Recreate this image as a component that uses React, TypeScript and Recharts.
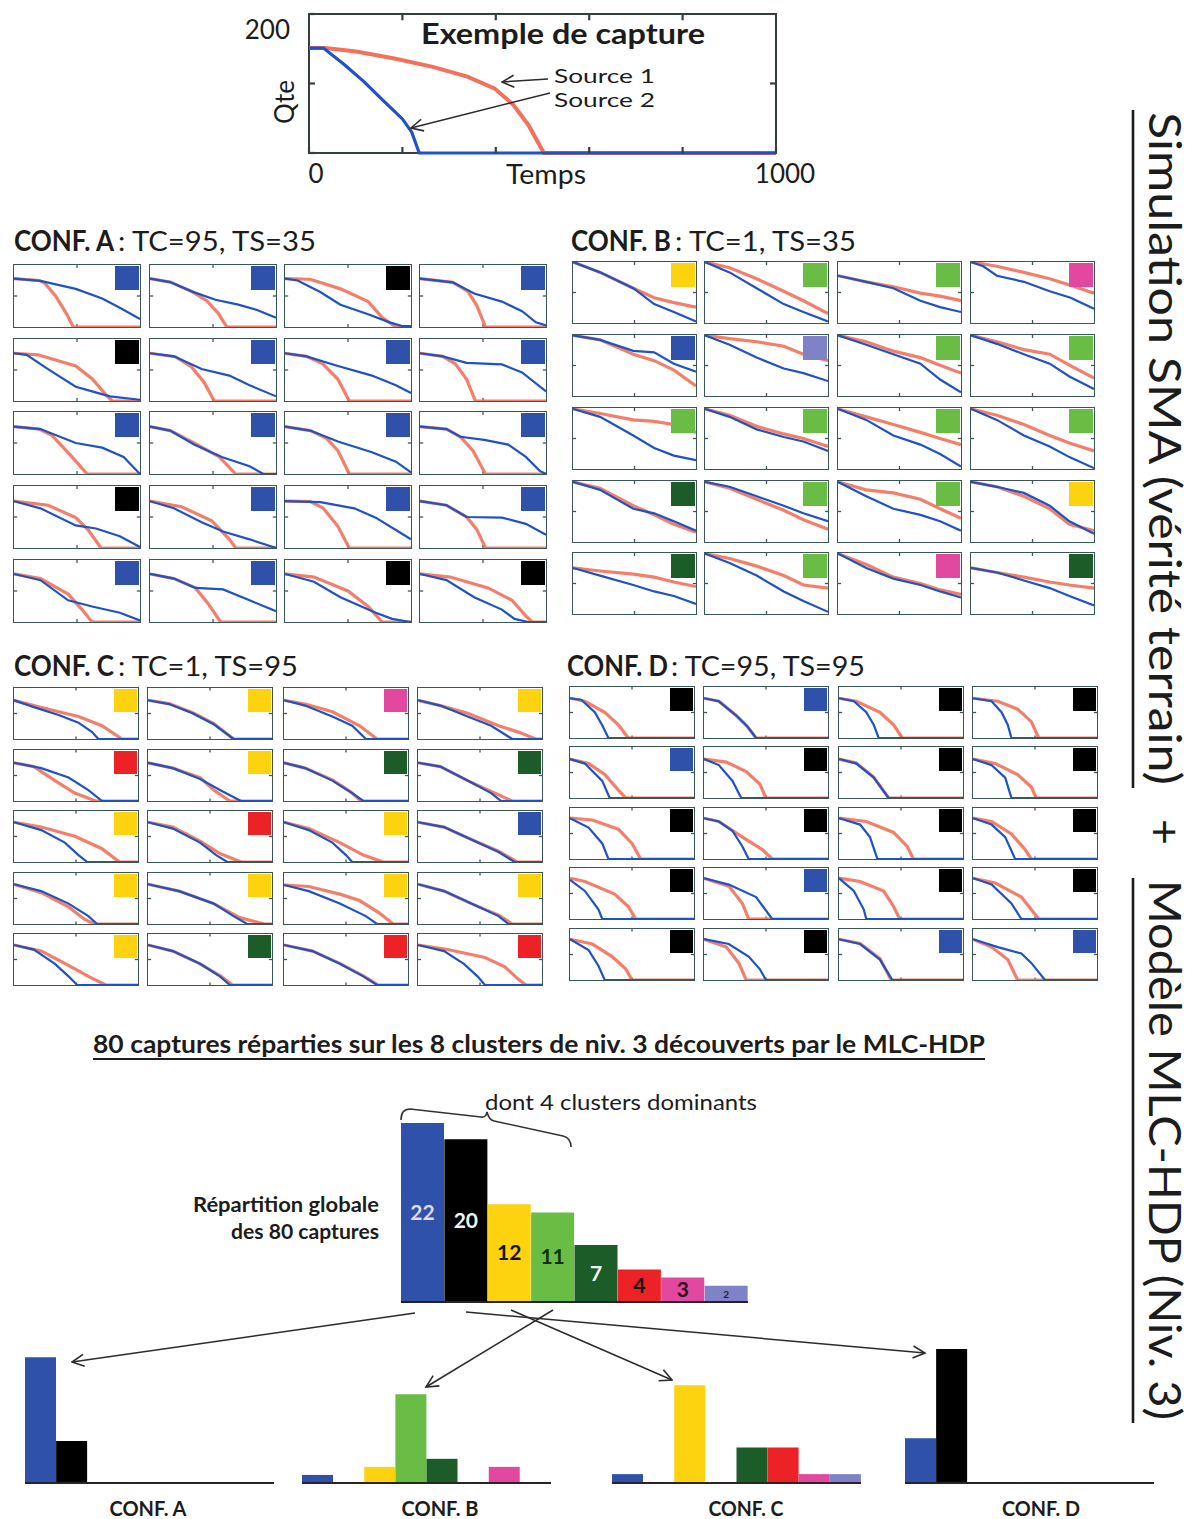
import React from 'react';
import { LineChart, Line, XAxis, YAxis, BarChart, Bar, Cell, LabelList, ReferenceLine } from 'recharts';

// Exemple de capture : points [temps, qte]
const exampleSource1 = [[0, 151], [35, 151], [101, 146], [183, 136], [265, 124], [339, 110], [397, 93], [438, 69], [470, 40], [503, 0], [1000, 0]];
const exampleSource2 = [[0, 151], [31, 151], [76, 127], [117, 103], [158, 76], [200, 49], [220, 30], [236, 0], [1000, 0]];

// 8 clusters de niv. 3 (ordre des barres)
const clusterNames = ['bleu', 'noir', 'jaune', 'vert', 'vert foncé', 'rouge', 'magenta', 'lavande'];
const globalCounts = [22, 20, 12, 11, 7, 4, 3, 2];
const confACounts = [15, 5, 0, 0, 0, 0, 0, 0];
const confBCounts = [1, 0, 2, 11, 3, 0, 2, 0];
const confCCounts = [1, 0, 11, 0, 4, 4, 1, 1];
const confDCounts = [5, 15, 0, 0, 0, 0, 0, 0];

// cluster affecté à chaque capture (lignes de 4)
const confAClusters = [0, 0, 1, 0, 1, 0, 0, 0, 0, 0, 0, 0, 1, 0, 0, 0, 0, 0, 1, 1];
const confBClusters = [2, 3, 3, 6, 0, 7, 3, 3, 3, 3, 3, 3, 4, 3, 3, 2, 4, 3, 6, 4];
const confCClusters = [2, 2, 6, 2, 5, 2, 4, 4, 2, 5, 2, 0, 2, 2, 2, 2, 2, 4, 5, 5];
const confDClusters = [1, 0, 1, 1, 0, 1, 1, 1, 1, 1, 1, 1, 1, 0, 1, 1, 1, 1, 0, 0];

// captures : source 1 (rouge) et source 2 (bleu), [temps, qte]
const confARed = [
  [[0, 156], [200, 150], [240, 143], [330, 100], [420, 40], [470, 0], [1000, 0]],
  [[0, 156], [160, 145], [330, 115], [450, 85], [540, 45], [610, 0], [1000, 0]],
  [[0, 156], [200, 154], [440, 123], [660, 82], [770, 31], [880, 0], [1000, 0]],
  [[0, 156], [260, 144], [380, 115], [450, 70], [520, 0], [1000, 0]],
  [[0, 154], [190, 149], [490, 113], [620, 72], [730, 20], [780, 0], [1000, 0]],
  [[0, 154], [200, 143], [330, 110], [430, 60], [510, 0], [1000, 0]],
  [[0, 154], [170, 144], [300, 120], [420, 70], [510, 0], [1000, 0]],
  [[0, 154], [180, 144], [280, 120], [370, 70], [440, 0], [1000, 0]],
  [[0, 153], [200, 145], [300, 125], [450, 60], [580, 0], [1000, 0]],
  [[0, 153], [160, 140], [350, 100], [550, 55], [680, 0], [1000, 0]],
  [[0, 153], [200, 140], [330, 115], [420, 75], [510, 0], [1000, 0]],
  [[0, 153], [210, 145], [320, 120], [420, 75], [520, 0], [1000, 0]],
  [[0, 151], [270, 138], [490, 98], [590, 58], [690, 0], [1000, 0]],
  [[0, 151], [250, 133], [490, 88], [630, 28], [680, 0], [1000, 0]],
  [[0, 151], [200, 150], [300, 130], [420, 70], [510, 0], [1000, 0]],
  [[0, 151], [210, 138], [370, 100], [450, 60], [520, 0], [1000, 0]],
  [[0, 155], [210, 140], [430, 90], [540, 40], [620, 0], [1000, 0]],
  [[0, 155], [190, 140], [360, 110], [460, 60], [560, 0], [1000, 0]],
  [[0, 155], [230, 145], [500, 100], [660, 50], [770, 0], [1000, 0]],
  [[0, 155], [240, 145], [540, 110], [730, 70], [840, 20], [890, 0], [1000, 0]],
];
const confABlue = [
  [[0, 156], [210, 149], [490, 123], [700, 92], [840, 62], [1000, 26]],
  [[0, 156], [160, 145], [330, 115], [520, 88], [700, 72], [850, 55], [1000, 30]],
  [[0, 156], [100, 150], [280, 113], [440, 72], [660, 41], [830, 15], [930, 3], [1000, 3]],
  [[0, 156], [260, 144], [430, 108], [650, 82], [810, 51], [920, 15], [1000, 5]],
  [[0, 154], [100, 149], [270, 103], [490, 46], [620, 31], [760, 15], [1000, 4]],
  [[0, 154], [190, 144], [410, 103], [630, 82], [790, 51], [1000, 15]],
  [[0, 154], [170, 144], [420, 113], [690, 82], [880, 51], [1000, 26]],
  [[0, 154], [180, 144], [370, 123], [650, 118], [810, 92], [1000, 31]],
  [[0, 153], [210, 145], [490, 100], [700, 85], [870, 55], [1000, 0]],
  [[0, 153], [160, 140], [350, 95], [570, 55], [790, 25], [900, 0], [1000, 0]],
  [[0, 153], [200, 140], [420, 105], [690, 70], [880, 40], [1000, 5]],
  [[0, 153], [210, 145], [320, 120], [510, 110], [700, 95], [840, 55], [950, 10], [1000, 0]],
  [[0, 151], [210, 128], [490, 73], [650, 63], [840, 38], [1000, 3]],
  [[0, 151], [190, 128], [410, 83], [580, 53], [790, 28], [1000, 0]],
  [[0, 151], [280, 148], [550, 128], [720, 98], [880, 58], [1000, 28]],
  [[0, 151], [210, 138], [370, 100], [650, 98], [840, 78], [1000, 43]],
  [[0, 155], [210, 135], [430, 70], [620, 50], [840, 30], [1000, 5]],
  [[0, 155], [190, 140], [360, 110], [580, 105], [790, 70], [1000, 35]],
  [[0, 155], [230, 130], [440, 80], [720, 30], [850, 10], [1000, 0]],
  [[0, 155], [210, 135], [430, 80], [650, 40], [750, 10], [860, 0], [1000, 0]],
];

const confBRed = [
  [[0, 200], [220, 166], [490, 114], [660, 83], [820, 67], [1000, 52]],
  [[0, 200], [200, 181], [420, 145], [640, 104], [800, 73], [1000, 31]],
  [[0, 155], [230, 135], [450, 119], [670, 98], [830, 88], [1000, 73]],
  [[0, 200], [210, 186], [430, 166], [640, 145], [810, 124], [1000, 98]],
  [[0, 199], [220, 184], [490, 137], [660, 116], [820, 85], [1000, 33]],
  [[0, 199], [200, 188], [420, 178], [640, 163], [800, 137], [1000, 116]],
  [[0, 199], [230, 178], [450, 147], [670, 126], [830, 101], [1000, 75]],
  [[0, 199], [210, 178], [430, 152], [640, 137], [800, 101], [1000, 59]],
  [[0, 197], [220, 182], [490, 161], [660, 156], [820, 146], [1000, 120]],
  [[0, 197], [200, 176], [420, 140], [640, 115], [800, 100], [1000, 74]],
  [[0, 197], [230, 171], [450, 146], [670, 120], [830, 100], [1000, 80]],
  [[0, 197], [210, 176], [430, 146], [640, 110], [800, 85], [1000, 59]],
  [[0, 197], [220, 176], [490, 119], [660, 89], [820, 58], [1000, 32]],
  [[0, 197], [200, 176], [420, 140], [640, 104], [800, 73], [1000, 42]],
  [[0, 197], [230, 171], [450, 161], [670, 140], [830, 109], [1000, 78]],
  [[0, 197], [210, 181], [430, 150], [640, 109], [800, 58], [1000, 37]],
  [[0, 151], [220, 141], [490, 131], [660, 121], [820, 105], [1000, 90]],
  [[0, 198], [200, 182], [420, 157], [640, 126], [800, 95], [1000, 85]],
  [[0, 198], [230, 162], [450, 121], [670, 100], [830, 79], [1000, 64]],
  [[0, 151], [210, 136], [430, 121], [640, 105], [800, 95], [1000, 85]],
];
const confBBlue = [
  [[0, 200], [220, 166], [490, 114], [660, 62], [820, 36], [1000, 5]],
  [[0, 200], [200, 166], [420, 114], [640, 62], [800, 36], [1000, 5]],
  [[0, 155], [230, 135], [450, 114], [670, 73], [830, 52], [1000, 36]],
  [[0, 200], [100, 186], [210, 155], [430, 135], [640, 104], [810, 83], [1000, 47]],
  [[0, 199], [220, 184], [490, 148], [660, 143], [820, 106], [1000, 80]],
  [[0, 199], [200, 168], [420, 126], [640, 90], [800, 75], [1000, 49]],
  [[0, 199], [230, 168], [450, 137], [670, 106], [830, 54], [1000, 12]],
  [[0, 199], [210, 171], [430, 137], [640, 106], [800, 64], [1000, 23]],
  [[0, 197], [220, 171], [490, 110], [660, 69], [820, 44], [1000, 29]],
  [[0, 197], [200, 171], [420, 130], [640, 105], [800, 90], [1000, 59]],
  [[0, 197], [230, 161], [450, 110], [670, 80], [830, 49], [1000, 8]],
  [[0, 197], [210, 161], [430, 110], [640, 74], [800, 39], [1000, 3]],
  [[0, 197], [220, 171], [490, 109], [660, 94], [820, 68], [1000, 37]],
  [[0, 197], [200, 181], [420, 150], [640, 119], [800, 94], [1000, 68]],
  [[0, 197], [230, 150], [450, 109], [670, 89], [830, 68], [1000, 37]],
  [[0, 197], [210, 181], [430, 161], [640, 119], [800, 68], [1000, 27]],
  [[0, 151], [220, 126], [490, 95], [660, 74], [820, 59], [1000, 33]],
  [[0, 198], [200, 167], [420, 126], [640, 74], [800, 43], [1000, 7]],
  [[0, 198], [230, 151], [450, 116], [670, 95], [830, 74], [1000, 54]],
  [[0, 151], [210, 136], [430, 110], [640, 85], [800, 59], [1000, 28]],
];

const confCRed = [
  [[0, 152], [160, 131], [360, 107], [520, 88], [710, 52], [870, 0], [1000, 0]],
  [[0, 152], [170, 139], [360, 103], [530, 60], [690, 0], [1000, 0]],
  [[0, 152], [170, 137], [390, 107], [610, 52], [750, 0], [1000, 0]],
  [[0, 152], [180, 131], [400, 101], [650, 52], [810, 27], [950, 0], [1000, 0]],
  [[0, 150], [160, 135], [330, 80], [490, 31], [660, 0], [1000, 0]],
  [[0, 150], [200, 129], [420, 92], [530, 43], [660, 0], [1000, 0]],
  [[0, 150], [170, 129], [390, 83], [540, 35], [620, 0], [1000, 0]],
  [[0, 150], [180, 135], [400, 80], [590, 37], [760, 0], [1000, 0]],
  [[0, 156], [220, 137], [490, 101], [710, 52], [850, 0], [1000, 0]],
  [[0, 156], [200, 137], [420, 82], [580, 33], [750, 0], [1000, 0]],
  [[0, 156], [200, 131], [450, 76], [640, 27], [800, 0], [1000, 0]],
  [[0, 156], [210, 137], [430, 88], [650, 42], [800, 0], [1000, 0]],
  [[0, 156], [220, 123], [440, 67], [570, 18], [650, 0], [1000, 0]],
  [[0, 156], [250, 129], [530, 80], [740, 25], [940, 0], [1000, 0]],
  [[0, 153], [200, 147], [450, 117], [610, 92], [770, 43], [880, 0], [1000, 0]],
  [[0, 156], [210, 129], [430, 80], [650, 35], [760, 0], [1000, 0]],
  [[0, 157], [220, 133], [440, 77], [600, 34], [740, 0], [1000, 0]],
  [[0, 157], [200, 133], [420, 83], [590, 34], [680, 0], [1000, 0]],
  [[0, 157], [230, 133], [450, 85], [640, 36], [760, 0], [1000, 0]],
  [[0, 157], [240, 139], [540, 108], [700, 71], [810, 22], [870, 0], [1000, 0]],
];
const confCBlue = [
  [[0, 152], [160, 125], [360, 94], [520, 64], [630, 27], [680, 0], [1000, 0]],
  [[0, 152], [170, 137], [360, 101], [530, 58], [690, 0], [1000, 0]],
  [[0, 152], [170, 131], [390, 88], [550, 52], [660, 0], [1000, 0]],
  [[0, 152], [180, 131], [400, 88], [590, 52], [760, 0], [1000, 0]],
  [[0, 150], [220, 129], [440, 92], [600, 43], [710, 0], [1000, 0]],
  [[0, 150], [200, 129], [420, 86], [580, 43], [750, 0], [1000, 0]],
  [[0, 150], [170, 129], [390, 80], [550, 31], [640, 0], [1000, 0]],
  [[0, 150], [180, 135], [400, 80], [590, 31], [670, 0], [1000, 0]],
  [[0, 156], [220, 125], [410, 76], [520, 27], [590, 0], [1000, 0]],
  [[0, 156], [200, 131], [420, 76], [550, 27], [640, 0], [1000, 0]],
  [[0, 156], [200, 125], [390, 76], [500, 27], [550, 0], [1000, 0]],
  [[0, 156], [210, 137], [430, 88], [650, 39], [780, 0], [1000, 0]],
  [[0, 156], [220, 129], [440, 80], [600, 31], [670, 0], [1000, 0]],
  [[0, 156], [250, 129], [530, 80], [690, 31], [800, 0], [1000, 0]],
  [[0, 153], [200, 129], [450, 80], [660, 31], [750, 0], [1000, 0]],
  [[0, 156], [210, 129], [430, 80], [650, 31], [730, 0], [1000, 0]],
  [[0, 157], [160, 139], [330, 83], [440, 34], [510, 0], [1000, 0]],
  [[0, 157], [200, 133], [420, 83], [580, 34], [660, 0], [1000, 0]],
  [[0, 157], [230, 133], [450, 83], [640, 34], [750, 0], [1000, 0]],
  [[0, 157], [210, 133], [370, 83], [480, 34], [540, 0], [1000, 0]],
];

const confDRed = [
  [[0, 156], [120, 144], [280, 101], [390, 52], [470, 0], [1000, 0]],
  [[0, 156], [120, 144], [260, 88], [350, 45], [420, 0], [1000, 0]],
  [[0, 156], [140, 144], [330, 101], [440, 52], [510, 0], [1000, 0]],
  [[0, 156], [200, 144], [360, 113], [470, 64], [530, 0], [1000, 0]],
  [[0, 153], [150, 135], [280, 92], [390, 31], [450, 0], [1000, 0]],
  [[0, 153], [180, 141], [340, 104], [450, 55], [500, 0], [1000, 0]],
  [[0, 153], [140, 137], [280, 82], [400, 0], [1000, 0]],
  [[0, 153], [180, 135], [360, 92], [470, 43], [510, 0], [1000, 0]],
  [[0, 160], [180, 153], [390, 117], [500, 61], [570, 0], [1000, 0]],
  [[0, 160], [120, 147], [310, 86], [470, 37], [550, 0], [1000, 0]],
  [[0, 160], [220, 147], [440, 104], [550, 49], [600, 0], [1000, 0]],
  [[0, 160], [150, 147], [310, 98], [420, 37], [470, 0], [1000, 0]],
  [[0, 160], [120, 147], [360, 98], [470, 49], [530, 0], [1000, 0]],
  [[0, 160], [200, 129], [310, 61], [360, 0], [1000, 0]],
  [[0, 160], [170, 147], [360, 110], [440, 49], [490, 0], [1000, 0]],
  [[0, 160], [180, 141], [390, 86], [530, 0], [1000, 0]],
  [[0, 160], [180, 141], [340, 92], [450, 43], [500, 0], [1000, 0]],
  [[0, 160], [180, 129], [280, 67], [340, 0], [1000, 0]],
  [[0, 160], [170, 143], [330, 84], [420, 0], [1000, 0]],
  [[0, 160], [150, 129], [280, 80], [360, 0], [1000, 0]],
];
const confDBlue = [
  [[0, 156], [90, 150], [200, 101], [260, 50], [310, 0], [1000, 0]],
  [[0, 156], [120, 144], [260, 88], [350, 45], [420, 0], [1000, 0]],
  [[0, 156], [120, 144], [220, 101], [280, 52], [320, 0], [1000, 0]],
  [[0, 156], [150, 144], [230, 101], [280, 52], [310, 0], [1000, 0]],
  [[0, 153], [120, 135], [260, 67], [320, 0], [1000, 0]],
  [[0, 153], [120, 129], [230, 67], [300, 0], [1000, 0]],
  [[0, 153], [140, 135], [280, 80], [400, 0], [1000, 0]],
  [[0, 153], [150, 129], [260, 80], [310, 0], [1000, 0]],
  [[0, 160], [150, 123], [260, 61], [310, 0], [1000, 0]],
  [[0, 160], [120, 147], [230, 110], [310, 49], [360, 0], [1000, 0]],
  [[0, 160], [170, 135], [250, 86], [310, 0], [1000, 0]],
  [[0, 160], [150, 135], [260, 86], [340, 0], [1000, 0]],
  [[0, 153], [120, 110], [230, 37], [260, 0], [1000, 0]],
  [[0, 160], [200, 135], [420, 86], [550, 0], [1000, 0]],
  [[0, 160], [120, 110], [200, 37], [220, 0], [1000, 0]],
  [[0, 160], [150, 135], [310, 61], [390, 0], [1000, 0]],
  [[0, 160], [150, 117], [230, 55], [280, 0], [1000, 0]],
  [[0, 160], [200, 141], [360, 92], [450, 43], [500, 0], [1000, 0]],
  [[0, 160], [170, 141], [330, 80], [430, 0], [1000, 0]],
  [[0, 160], [200, 129], [390, 104], [470, 67], [580, 0], [1000, 0]],
];

const FONT = 'Lato, "Open Sans", sans-serif';
const INK = '#1c1c1c';
const RED = '#f2715a';
const BLUE = '#1f52c4';
const FRAME = '#3b5656';
const CLUSTER_COLORS = ['#2f51a9', '#000000', '#fdd20f', '#69bd45', '#1b5c29', '#ec2227', '#e2489f', '#7f82c6'];

const toPts = (c: number[][]) => c.map(([t, q]) => ({ t, q }));

const GRIDS = [
  { left: [12, 148, 283, 418], top: [263, 337, 410, 484, 558], w: 130, h: 66, sq: 24, red: confARed, blue: confABlue, clusters: confAClusters },
  { left: [571, 703, 836, 969], top: [260, 333, 406, 479, 551], w: 127, h: 65, sq: 24, red: confBRed, blue: confBBlue, clusters: confBClusters },
  { left: [12, 146, 282, 416], top: [686, 748, 809, 871, 932], w: 128, h: 55, sq: 23, red: confCRed, blue: confCBlue, clusters: confCClusters },
  { left: [568, 702, 837, 971], top: [685, 745, 806, 866, 927], w: 128, h: 55, sq: 23, red: confDRed, blue: confDBlue, clusters: confDClusters },
];

const BOTTOM = [
  { left: 25, counts: confACounts, yMax: 17.9 },
  { left: 302, counts: confBCounts, yMax: 18.6 },
  { left: 612, counts: confCCounts, yMax: 16.9 },
  { left: 905, counts: confDCounts, yMax: 16.8 },
];

function Panel({ left, top, w, h, sq, red, blue, cluster }: any) {
  const tk = { stroke: FRAME, strokeWidth: 1.3 };
  return (
    <div style={{ position: 'absolute', left, top, width: w, height: h }}>
      <div style={{ position: 'absolute', left: 1.2, top: 1.2, width: w - 2.4, height: h - 2.4, boxSizing: 'border-box', border: `1.6px solid ${FRAME}` }} />
      <div style={{ position: 'absolute', left: 0, top: 0 }}>
        <LineChart width={w} height={h} margin={{ top: 2, right: 2, bottom: 2, left: 2 }}>
          <XAxis dataKey="t" type="number" domain={[0, 1000]} hide height={0} allowDataOverflow />
          <YAxis type="number" domain={[0, 200]} hide width={0} allowDataOverflow />
          <ReferenceLine segment={[{ x: 500, y: 0 }, { x: 500, y: 10 }]} {...tk} />
          <ReferenceLine segment={[{ x: 500, y: 200 }, { x: 500, y: 190 }]} {...tk} />
          <ReferenceLine segment={[{ x: 0, y: 100 }, { x: 25, y: 100 }]} {...tk} />
          <ReferenceLine segment={[{ x: 1000, y: 100 }, { x: 975, y: 100 }]} {...tk} />
          <Line data={toPts(red)} dataKey="q" type="linear" stroke={RED} strokeWidth={3.2} strokeOpacity={0.9} dot={false} activeDot={false} isAnimationActive={false} />
          <Line data={toPts(blue)} dataKey="q" type="linear" stroke={BLUE} strokeWidth={2.2} dot={false} activeDot={false} isAnimationActive={false} />
        </LineChart>
      </div>
      <div style={{ position: 'absolute', right: 3, top: 3, width: sq, height: sq, background: CLUSTER_COLORS[cluster] }} />
    </div>
  );
}

function ConfGrid({ left, top, w, h, sq, red, blue, clusters }: any) {
  const panels = [];
  for (let r = 0; r < 5; r++) {
    for (let c = 0; c < 4; c++) {
      const i = r * 4 + c;
      panels.push(
        <Panel key={i} left={left[c]} top={top[r]} w={w} h={h} sq={sq} red={red[i]} blue={blue[i]} cluster={clusters[i]} />
      );
    }
  }
  return <>{panels}</>;
}

const renderExampleXTick = (props: any) => {
  const { x, y, payload } = props;
  if (payload.value !== 0 && payload.value !== 1000) return <g />;
  const dx = payload.value === 0 ? 7 : 9;
  return (
    <text x={x + dx} y={y + 22} textAnchor="middle" fontSize={26} fill={INK} fontFamily={FONT}>
      {payload.value}
    </text>
  );
};

const renderExampleYTick = (props: any) => {
  const { x, y, payload } = props;
  if (payload.value !== 200) return <g />;
  return (
    <text x={x} y={y + 25} textAnchor="end" fontSize={26} fill={INK} fontFamily={FONT}>
      {payload.value}
    </text>
  );
};

function ExampleChart() {
  const axis = { stroke: '#363f3f', strokeWidth: 2.2 };
  return (
    <>
      <div style={{ position: 'absolute', left: 307.8, top: 12.8, width: 469.4, height: 141.4, boxSizing: 'border-box', border: '2.4px solid #363f3f' }} />
      <div style={{ position: 'absolute', left: 230, top: 0 }}>
        <LineChart width={600} height={195} margin={{ top: 14, right: 54, bottom: 0, left: 0 }}>
          <XAxis dataKey="t" type="number" domain={[0, 1000]} ticks={[0, 200, 400, 600, 800, 1000]} tickSize={-6} tickMargin={14} height={42} axisLine={false} tickLine={axis} tick={renderExampleXTick} />
          <YAxis type="number" domain={[0, 200]} ticks={[0, 100, 200]} tickSize={-6} tickMargin={25} width={79} axisLine={false} tickLine={axis} tick={renderExampleYTick} />
          {[200, 400, 600, 800].map((t) => (
            <ReferenceLine key={t} segment={[{ x: t, y: 200 }, { x: t, y: 191 }]} {...axis} />
          ))}
          <ReferenceLine segment={[{ x: 1000, y: 100 }, { x: 987, y: 100 }]} {...axis} />
          <Line data={toPts(exampleSource1)} dataKey="q" name="Source 1" type="linear" stroke={RED} strokeWidth={4} dot={false} activeDot={false} isAnimationActive={false} />
          <Line data={toPts(exampleSource2)} dataKey="q" name="Source 2" type="linear" stroke={BLUE} strokeWidth={3.2} dot={false} activeDot={false} isAnimationActive={false} />
        </LineChart>
      </div>
    </>
  );
}

const MAIN_LABEL_FILL = ['#dcdcf2', '#f4f4f4', '#151515', '#123012', '#eef4ee', '#151515', '#2a1020', '#222244'];

const renderMainLabel = (props: any) => {
  const x = Number(props.x), y = Number(props.y), width = Number(props.width), height = Number(props.height);
  const value = props.value;
  const i = props.index != null ? props.index : globalCounts.indexOf(Number(value));
  const small = i === 7;
  return (
    <text x={x + width / 2} y={y + height / 2 + (small ? 4 : 7)} textAnchor="middle" fontSize={small ? 10 : 21} fontWeight={700} fill={MAIN_LABEL_FILL[i]} fontFamily={FONT}>
      {value}
    </text>
  );
};

function MainBars() {
  const data = clusterNames.map((name, i) => ({ name, n: globalCounts[i] }));
  return (
    <div style={{ position: 'absolute', left: 401, top: 1123 }}>
      <BarChart width={347} height={182} data={data} margin={{ top: 0, right: 0, bottom: 0, left: 0 }} barCategoryGap={0} barGap={0}>
        <XAxis dataKey="name" height={3} tick={false} tickLine={false} axisLine={{ stroke: '#222', strokeWidth: 2 }} />
        <YAxis hide width={0} domain={[0, 22]} />
        <Bar dataKey="n" isAnimationActive={false}>
          {data.map((d, i) => <Cell key={d.name} fill={CLUSTER_COLORS[i]} />)}
          <LabelList dataKey="n" content={renderMainLabel} />
        </Bar>
      </BarChart>
    </div>
  );
}

function ConfBars({ left, counts, yMax }: any) {
  const data = clusterNames.map((name, i) => ({ name, n: counts[i] }));
  return (
    <div style={{ position: 'absolute', left, top: 1333 }}>
      <BarChart width={249} height={153} data={data} margin={{ top: 0, right: 0, bottom: 0, left: 0 }} barCategoryGap={0} barGap={0}>
        <XAxis dataKey="name" height={3} tick={false} tickLine={false} axisLine={{ stroke: '#2a2424', strokeWidth: 2 }} />
        <YAxis hide width={0} domain={[0, yMax]} />
        <Bar dataKey="n" isAnimationActive={false}>
          {data.map((d, i) => <Cell key={d.name} fill={CLUSTER_COLORS[i]} />)}
        </Bar>
      </BarChart>
    </div>
  );
}

function T({ x, y, len, size, bold, anchor, children }: any) {
  return (
    <text x={x} y={y} fontSize={size} fontWeight={bold ? 700 : 400} textAnchor={anchor || 'start'} textLength={len} lengthAdjust="spacingAndGlyphs" fill={INK}>
      {children}
    </text>
  );
}

function Overlay() {
  const ln = { stroke: '#2b2b2b', strokeWidth: 1.5, fill: 'none' };
  return (
    <svg width={1193} height={1519} style={{ position: 'absolute', left: 0, top: 0, pointerEvents: 'none' }} fontFamily={FONT}>
      <defs>
        <marker id="arr" viewBox="0 0 14 14" refX="13" refY="7" markerWidth="14" markerHeight="14" orient="auto" markerUnits="userSpaceOnUse">
          <path d="M1,1 L13,7 L1,13" fill="none" stroke="#2b2b2b" strokeWidth="1.6" />
        </marker>
      </defs>

      {/* exemple de capture */}
      <T x={563} y={44} len={284} size={29} bold anchor="middle">Exemple de capture</T>
      <text x={0} y={0} fontSize={26} fill={INK} textAnchor="middle" transform="translate(294 102) rotate(-90)">Qte</text>
      <T x={546} y={184} len={80} size={26} anchor="middle">Temps</T>
      <T x={554} y={83} len={101} size={20}>Source 1</T>
      <T x={554} y={107} len={101} size={20}>Source 2</T>
      <line x1={548} y1={79} x2={502} y2={82} {...ln} markerEnd="url(#arr)" />
      <line x1={550} y1={93} x2={411} y2={128} {...ln} markerEnd="url(#arr)" />

      {/* titres des configurations */}
      <T x={14} y={251} len={100} size={28} bold>CONF. A</T>
      <T x={118} y={251} len={198} size={26}>: TC=95, TS=35</T>
      <T x={571} y={251} len={100} size={28} bold>CONF. B</T>
      <T x={675} y={251} len={181} size={26}>: TC=1, TS=35</T>
      <T x={14} y={676} len={100} size={28} bold>CONF. C</T>
      <T x={118} y={676} len={180} size={26}>: TC=1, TS=95</T>
      <T x={567} y={676} len={101} size={28} bold>CONF. D</T>
      <T x={671} y={676} len={194} size={26}>: TC=95, TS=95</T>

      {/* titre de la répartition */}
      <T x={93} y={1053} len={892} size={24} bold>80 captures réparties sur les 8 clusters de niv. 3 découverts par le MLC-HDP</T>
      <line x1={93} y1={1059} x2={985} y2={1059} stroke={INK} strokeWidth={2} />

      <T x={485} y={1110} len={272} size={22}>dont 4 clusters dominants</T>
      <path d="M401,1120 Q401,1109 410,1109 L481,1117 Q486,1118 487,1112 Q489,1120 494,1121 L563,1136 Q571,1138 571,1147" stroke="#333" strokeWidth={1.6} fill="none" />
      <T x={379} y={1212} len={186} size={21} bold anchor="end">Répartition globale</T>
      <T x={379} y={1239} len={148} size={21} bold anchor="end">des 80 captures</T>

      {/* flèches vers les configurations */}
      <line x1={415} y1={1313} x2={72} y2={1362} {...ln} markerEnd="url(#arr)" />
      <line x1={553} y1={1310} x2={426} y2={1387} {...ln} markerEnd="url(#arr)" />
      <line x1={511} y1={1310} x2={672} y2={1380} {...ln} markerEnd="url(#arr)" />
      <line x1={466} y1={1312} x2={925} y2={1353} {...ln} markerEnd="url(#arr)" />

      <T x={148} y={1516} len={77} size={21} bold anchor="middle">CONF. A</T>
      <T x={440} y={1516} len={77} size={21} bold anchor="middle">CONF. B</T>
      <T x={746} y={1516} len={75} size={21} bold anchor="middle">CONF. C</T>
      <T x={1041} y={1516} len={78} size={21} bold anchor="middle">CONF. D</T>

      {/* titre vertical */}
      <g transform="rotate(90 1149 112)">
        <T x={1149} y={112} len={673} size={45}>Simulation SMA (vérité terrain)</T>
        <T x={1869} y={112} size={45} anchor="middle">+</T>
        <T x={1917} y={112} len={540} size={45}>Modèle MLC-HDP (Niv. 3)</T>
        <line x1={1147} y1={128} x2={1825} y2={128} stroke={INK} strokeWidth={2.6} />
        <line x1={1915} y1={128} x2={2460} y2={128} stroke={INK} strokeWidth={2.6} />
      </g>
    </svg>
  );
}

export default function App() {
  return (
    <div style={{ position: 'absolute', left: 0, top: 0, width: 1193, height: 1519, background: '#fff', overflow: 'hidden', fontFamily: FONT }}>
      <ExampleChart />
      {GRIDS.map((g, i) => <ConfGrid key={i} {...g} />)}
      <MainBars />
      {BOTTOM.map((b, i) => <ConfBars key={i} {...b} />)}
      <Overlay />
    </div>
  );
}
